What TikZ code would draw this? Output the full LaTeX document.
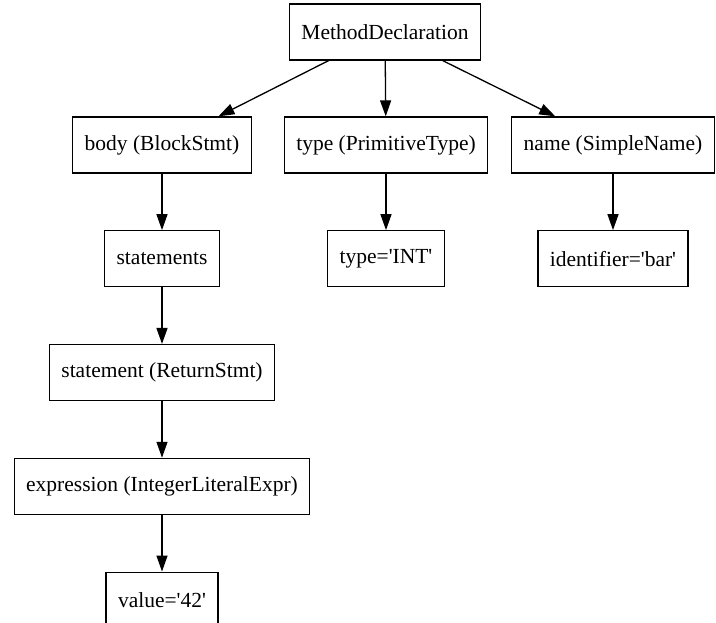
\documentclass[tikz,border=0pt]{standalone}
\usepackage{fontspec}
\setmainfont{Liberation Serif}
\usetikzlibrary{positioning,arrows.meta}
\newcommand{\astfont}{\fontsize{21.5}{26}\selectfont}
\newcommand{\q}{\textquotesingle}

\begin{document}
\begin{tikzpicture}[x=1pt,y=1pt,>={Triangle[length=16pt,width=11pt]},
    box/.style={draw,line width=1.3pt,font=\astfont,inner xsep=12pt,minimum height=56pt},
    edge/.style={->,line width=1.3pt}]
    \useasboundingbox (0,0) rectangle (716,-623);
    \node[box] (md) at (385,-32) {MethodDeclaration};
    \node[box] (body) at (162,-145) {body (BlockStmt)};
    \node[box] (type) at (386,-145) {type (PrimitiveType)};
    \node[box] (name) at (613,-145) {name (SimpleName)};
    \node[box,below=56.5pt of body] (stmts) {statements};
    \node[box,below=56.5pt of type] (typeval) {type=\q INT\q};
    \node[box,below=56.5pt of name] (ident) {identifier=\q bar\q};
    \node[box,below=56.5pt of stmts] (ret) {statement (ReturnStmt)};
    \node[box,below=56.5pt of ret] (expr) {expression (IntegerLiteralExpr)};
    \node[box,below=56.5pt of expr] (val) {value=\q 42\q};
    \draw[edge] (md)--(body); \draw[edge] (md)--(type); \draw[edge] (md)--(name);
    \draw[edge] (body)--(stmts); \draw[edge] (type)--(typeval); \draw[edge] (name)--(ident);
    \draw[edge] (stmts)--(ret); \draw[edge] (ret)--(expr); \draw[edge] (expr)--(val);
  \end{tikzpicture}
\end{document}
